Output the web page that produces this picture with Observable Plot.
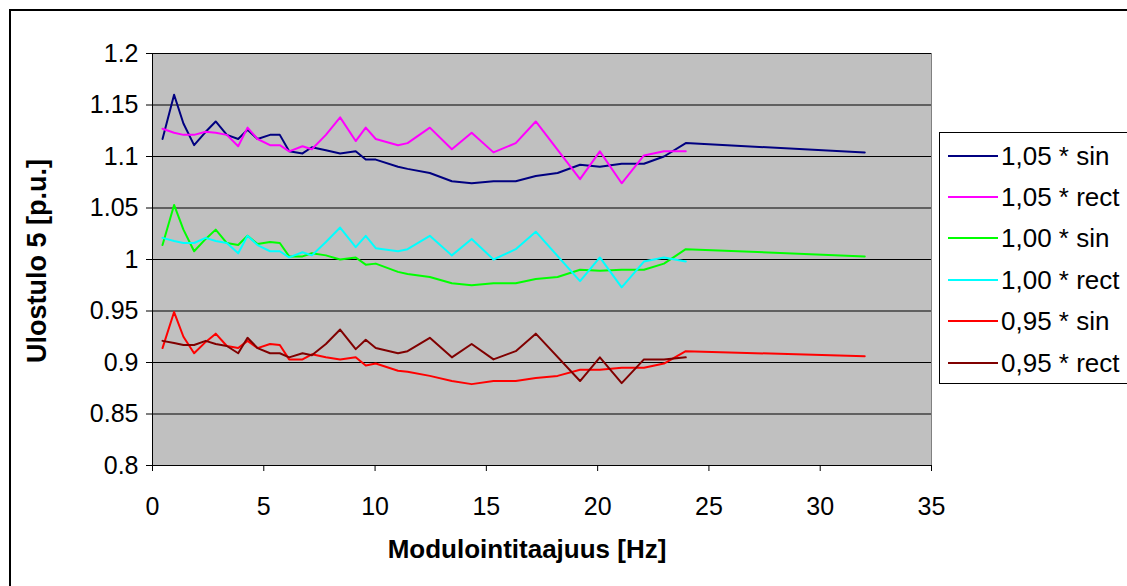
<!DOCTYPE html>
<html><head><meta charset="utf-8">
<script src="https://cdn.jsdelivr.net/npm/d3@7"></script>
<script src="https://cdn.jsdelivr.net/npm/@observablehq/plot@0.6"></script>
<style>
body{margin:0;background:#fff;font-family:"Liberation Sans",Arial,sans-serif;}
#wrap{position:relative;width:1127px;height:586px;overflow:hidden;}
#frame{position:absolute;left:9px;top:9px;width:1140px;height:600px;border:2px solid #000;box-sizing:border-box;}
#chart{position:absolute;left:0;top:0;}
#chart svg text{font-family:"Liberation Sans",Arial,sans-serif;fill:#000;}
.ytitle{position:absolute;left:37px;top:261px;transform:translate(-50%,-50%) rotate(-90deg);font-weight:bold;font-size:27px;white-space:nowrap;}
.xtitle{position:absolute;left:527px;top:549px;transform:translate(-50%,-50%);font-weight:bold;font-size:26px;white-space:nowrap;}
#legend{position:absolute;left:939px;top:132px;width:200px;height:252px;border:1px solid #000;background:#fff;box-sizing:border-box;}
.item{position:absolute;left:8px;height:30px;display:flex;align-items:center;font-size:26px;white-space:nowrap;}
.sw{display:inline-block;width:50px;height:2px;margin-right:3px;}
</style></head>
<body>
<div id="wrap">
  <div id="frame"></div>
  <div id="chart"></div>
  <div class="ytitle">Ulostulo 5 [p.u.]</div>
  <div class="xtitle">Modulointitaajuus [Hz]</div>
  <div id="legend"></div>
</div>
<script>
const seriesNames = ["1,05 * sin","1,05 * rect","1,00 * sin","1,00 * rect","0,95 * sin","0,95 * rect"];
const seriesColors = ["#000080","#ff00ff","#00ff00","#00ffff","#ff0000","#800000"];

const xSin = [0.45,0.97,1.39,1.87,2.39,2.84,3.34,3.85,4.27,4.72,5.28,5.72,6.14,6.74,7.16,7.79,8.43,9.13,9.58,10.03,11.03,11.46,12.46,13.45,14.34,15.32,16.32,17.22,18.2,19.21,20.1,21.08,22.08,22.98,23.96,32];
const xRect = [0.45,0.97,1.39,1.87,2.39,2.84,3.34,3.85,4.27,4.72,5.28,5.72,6.14,6.74,7.16,7.79,8.43,9.13,9.58,10.03,11.03,11.46,12.46,13.45,14.34,15.32,16.32,17.22,19.21,20.1,21.08,22.08,22.98,23.96];

const sin105 = [1.117,1.160,1.132,1.111,1.124,1.134,1.121,1.117,1.126,1.117,1.121,1.121,1.105,1.103,1.109,1.106,1.103,1.105,1.097,1.097,1.090,1.088,1.084,1.076,1.074,1.076,1.076,1.081,1.084,1.092,1.090,1.093,1.093,1.100,1.113,1.104];
const rect105 = [1.127,1.123,1.121,1.121,1.124,1.123,1.121,1.110,1.128,1.117,1.111,1.111,1.105,1.110,1.107,1.121,1.138,1.115,1.128,1.117,1.111,1.113,1.128,1.107,1.123,1.104,1.113,1.134,1.078,1.105,1.074,1.101,1.105,1.105];
const sin100 = [1.014,1.053,1.029,1.008,1.020,1.029,1.016,1.014,1.023,1.015,1.017,1.016,1.003,1.003,1.006,1.004,1.000,1.002,0.995,0.996,0.988,0.986,0.983,0.977,0.975,0.977,0.977,0.981,0.983,0.990,0.989,0.990,0.990,0.996,1.010,1.003];
const rect100 = [1.021,1.018,1.016,1.016,1.021,1.018,1.016,1.006,1.023,1.014,1.008,1.008,1.002,1.007,1.004,1.017,1.031,1.012,1.023,1.011,1.008,1.010,1.023,1.004,1.020,1.000,1.010,1.027,0.979,1.002,0.973,0.998,1.002,0.998];
const sin095 = [0.914,0.949,0.925,0.909,0.920,0.928,0.916,0.914,0.921,0.914,0.918,0.917,0.903,0.903,0.908,0.905,0.903,0.905,0.897,0.899,0.892,0.891,0.887,0.882,0.879,0.882,0.882,0.885,0.887,0.893,0.893,0.895,0.895,0.899,0.911,0.906];
const rect095 = [0.921,0.919,0.917,0.917,0.921,0.918,0.916,0.909,0.924,0.914,0.909,0.909,0.905,0.909,0.907,0.918,0.932,0.913,0.922,0.914,0.909,0.911,0.924,0.905,0.918,0.903,0.911,0.928,0.882,0.905,0.880,0.903,0.903,0.905];

const yTicks = [0.8,0.85,0.9,0.95,1,1.05,1.1,1.15,1.2];
const xTicks = [0,5,10,15,20,25,30,35];

const seriesValues = [sin105,rect105,sin100,rect100,sin095,rect095];
const rows = [];
seriesNames.forEach((name,i)=>{
  const xs = i % 2 === 0 ? xSin : xRect;
  seriesValues[i].forEach((v,j)=>rows.push({series:name, x:xs[j], y:v}));
});

const chart = Plot.plot({
  width:1127, height:586,
  marginLeft:152, marginRight:196, marginTop:53, marginBottom:121,
  style:{fontFamily:"'Liberation Sans', Arial, sans-serif", fontSize:"25px", background:"transparent", color:"#000"},
  x:{domain:[0,35]},
  y:{domain:[0.8,1.2]},
  color:{domain:seriesNames, range:seriesColors},
  marks:[
    Plot.frame({fill:"#c0c0c0", stroke:"#808080"}),
    Plot.gridY(yTicks,{stroke:"#000", strokeOpacity:1}),
    Plot.axisY(yTicks,{tickSize:6, tickPadding:8, fontSize:25, tickFormat:d=>String(+d.toFixed(2)), label:null}),
    Plot.axisX(xTicks,{tickSize:6, tickPadding:26, fontSize:25, label:null}),
    Plot.ruleX([0],{stroke:"#000"}),
    Plot.ruleY([0.8],{stroke:"#000"}),
    Plot.line(rows,{x:"x", y:"y", z:"series", stroke:"series", strokeWidth:2})
  ]
});
document.getElementById("chart").appendChild(chart);

const legend = document.getElementById("legend");
const rowTops = [8,49,90,132,173,215];
seriesNames.forEach((name,i)=>{
  const d = document.createElement("div");
  d.className = "item";
  d.style.top = rowTops[i] + "px";
  d.innerHTML = `<span class="sw" style="background:${seriesColors[i]}"></span><span>${name}</span>`;
  legend.appendChild(d);
});
</script>
</body></html>
